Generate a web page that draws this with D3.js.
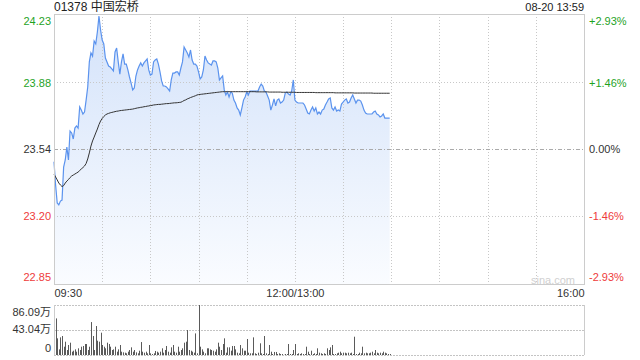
<!DOCTYPE html>
<html lang="zh">
<head>
<meta charset="UTF-8">
<title>01378 中国宏桥</title>
<script src="https://cdn.jsdelivr.net/npm/d3@7"></script>
<style>
  body { margin: 0; background: #fff; }
  text { font-family: "Liberation Sans", Arial, "Noto Sans CJK SC", sans-serif; }
</style>
</head>
<body>
<script>

// minute index: 0 = 09:30, 150 = 12:00/13:00, 330 = 16:00
var timeTicks = [0, 150, 330];
var timeLabels = ["09:30", "12:00/13:00", "16:00"];
var gridMinutes = [30, 60, 90, 120, 150, 180, 210, 240, 270, 300];

var priceTicks = [24.23, 23.88, 23.54, 23.20, 22.85];
var pctLabels = ["+2.93%", "+1.46%", "0.00%", "-1.46%", "-2.93%"];
var tickColors = ["#1fa31f", "#1fa31f", "#333", "#ee3b3b", "#ee3b3b"];

var volTicks = [86.09, 43.04, 0];
var volLabels = ["86.09万", "43.04万", "0"];

// price per minute, 09:30 .. 13:59
var price = [
  23.475, 23.356, 23.264, 23.254, 23.274, 23.279, 23.448, 23.484, 23.550, 23.484,
  23.632, 23.622, 23.591, 23.647, 23.658, 23.647, 23.755, 23.739, 23.719, 23.729,
  23.790, 23.857, 23.985, 24.031, 24.015, 24.092, 24.077, 24.138, 24.220, 24.148,
  24.097, 24.077, 24.005, 23.985, 23.964, 23.959, 23.949, 23.939, 24.036, 24.056,
  23.985, 23.923, 23.985, 24.026, 23.974, 23.974, 23.944, 23.908, 23.877, 23.842,
  23.852, 23.913, 23.944, 23.964, 23.980, 23.964, 23.980, 23.990, 24.000, 23.944,
  23.918, 23.923, 23.985, 23.995, 24.000, 23.974, 23.934, 23.888, 23.862, 23.862,
  23.857, 23.847, 23.836, 23.893, 23.928, 23.928, 23.934, 23.934, 23.918, 23.954,
  23.985, 24.061, 24.046, 24.031, 24.010, 24.046, 23.995, 23.974, 23.974, 23.964,
  23.934, 23.898, 23.908, 23.944, 24.015, 23.995, 23.980, 23.974, 23.969, 23.990,
  23.990, 23.985, 23.954, 23.893, 23.903, 23.913, 23.842, 23.816, 23.831, 23.806,
  23.831, 23.826, 23.790, 23.775, 23.750, 23.739, 23.714, 23.750, 23.790, 23.806,
  23.831, 23.816, 23.836, 23.836, 23.836, 23.836, 23.836, 23.836, 23.857, 23.872,
  23.862, 23.836, 23.831, 23.811, 23.790, 23.739, 23.765, 23.796, 23.760, 23.790,
  23.796, 23.775, 23.780, 23.790, 23.826, 23.831, 23.821, 23.816, 23.836, 23.893,
  23.790, 23.780, 23.775, 23.775, 23.775, 23.775, 23.765, 23.744, 23.724, 23.719,
  23.739, 23.755, 23.734, 23.750, 23.719, 23.729, 23.719, 23.739, 23.744, 23.765,
  23.780, 23.796, 23.801, 23.750, 23.739, 23.755, 23.734, 23.739, 23.734, 23.770,
  23.780, 23.790, 23.796, 23.775, 23.780, 23.801, 23.816, 23.796, 23.775, 23.790,
  23.790, 23.785, 23.765, 23.739, 23.724, 23.719, 23.719, 23.719, 23.719, 23.729,
  23.734, 23.719, 23.714, 23.704, 23.709, 23.719, 23.698, 23.698, 23.698, 23.698
];

// average price per minute
var avgPrice = [
  23.412, 23.397, 23.382, 23.366, 23.356, 23.348, 23.353, 23.366, 23.376, 23.384,
  23.394, 23.402, 23.407, 23.412, 23.417, 23.422, 23.430, 23.438, 23.445, 23.453,
  23.466, 23.489, 23.520, 23.555, 23.581, 23.601, 23.622, 23.642, 23.665, 23.683,
  23.696, 23.706, 23.714, 23.719, 23.722, 23.725, 23.727, 23.729, 23.731, 23.733,
  23.734, 23.736, 23.737, 23.738, 23.739, 23.740, 23.741, 23.742, 23.743, 23.744,
  23.746, 23.748, 23.750, 23.751, 23.753, 23.754, 23.756, 23.757, 23.759, 23.760,
  23.762, 23.763, 23.765, 23.766, 23.767, 23.768, 23.768, 23.769, 23.770, 23.771,
  23.772, 23.772, 23.773, 23.774, 23.775, 23.776, 23.776, 23.777, 23.778, 23.779,
  23.783, 23.788, 23.791, 23.796, 23.799, 23.803, 23.806, 23.809, 23.812, 23.816,
  23.818, 23.819, 23.820, 23.821, 23.822, 23.823, 23.824, 23.825, 23.826, 23.827,
  23.828, 23.829, 23.830, 23.831, 23.832, 23.833, 23.833, 23.833, 23.833, 23.833,
  23.833, 23.833, 23.833, 23.833, 23.833, 23.833, 23.833, 23.833, 23.833, 23.833,
  23.833, 23.833, 23.833, 23.833, 23.833, 23.833, 23.832, 23.832, 23.832, 23.832,
  23.832, 23.832, 23.832, 23.832, 23.831, 23.831, 23.831, 23.831, 23.831, 23.831,
  23.831, 23.831, 23.830, 23.830, 23.830, 23.830, 23.830, 23.830, 23.830, 23.830,
  23.830, 23.829, 23.829, 23.829, 23.829, 23.829, 23.829, 23.829, 23.829, 23.829,
  23.829, 23.829, 23.829, 23.828, 23.828, 23.828, 23.828, 23.828, 23.828, 23.828,
  23.828, 23.828, 23.828, 23.828, 23.828, 23.827, 23.827, 23.827, 23.827, 23.827,
  23.827, 23.827, 23.827, 23.827, 23.827, 23.827, 23.827, 23.826, 23.826, 23.826,
  23.826, 23.826, 23.826, 23.826, 23.826, 23.826, 23.826, 23.826, 23.826, 23.825,
  23.825, 23.825, 23.825, 23.825, 23.825, 23.825, 23.825, 23.825, 23.825, 23.825
];

// volume per minute, unit 万
var volume = [
  84.2, 63.0, 28.7, 9.7, 30.4, 32.7, 14.3, 22.9, 8.6, 17.2,
  21.2, 5.7, 7.4, 9.7, 5.7, 11.5, 8.6, 14.3, 15.5, 18.9,
  18.9, 8.6, 14.3, 56.7, 32.7, 8.6, 49.9, 24.6, 22.9, 38.4,
  17.2, 14.3, 11.5, 21.2, 18.9, 14.3, 8.6, 9.7, 14.3, 5.7,
  9.7, 17.2, 5.7, 4.6, 4.0, 2.9, 5.7, 8.6, 13.2, 5.7,
  8.6, 4.6, 2.9, 7.4, 22.3, 5.7, 4.0, 5.7, 2.9, 17.2,
  2.9, 1.7, 2.9, 6.9, 5.7, 4.0, 5.7, 11.5, 4.0, 8.6,
  15.5, 5.7, 4.0, 13.2, 17.2, 5.7, 4.0, 14.3, 5.7, 8.6,
  11.5, 21.2, 22.9, 43.0, 8.6, 7.4, 5.7, 4.0, 37.2, 2.9,
  86.09, 14.3, 9.7, 5.7, 2.9, 11.5, 11.5, 9.7, 8.6, 7.4,
  5.7, 9.7, 21.2, 14.3, 8.6, 18.9, 28.7, 4.0, 13.2, 13.2,
  7.4, 15.5, 15.5, 9.7, 4.0, 2.9, 17.2, 11.5, 7.4, 7.4,
  27.5, 4.0, 2.9, 2.9, 30.4, 2.9, 1.7, 4.0, 20.1, 2.9,
  1.7, 32.7, 2.9, 1.7, 17.2, 5.7, 1.7, 5.2, 5.2, 1.7,
  2.9, 1.7, 1.7, 0.3, 1.7, 1.7, 18.9, 1.7, 1.7, 8.6,
  18.9, 1.7, 2.9, 1.7, 2.9, 1.7, 1.7, 14.3, 5.7, 1.7,
  7.4, 1.7, 2.9, 1.7, 11.5, 4.0, 2.9, 1.7, 2.9, 1.7,
  11.5, 8.6, 13.2, 17.2, 1.7, 1.7, 2.9, 4.0, 5.7, 2.9,
  4.0, 4.0, 2.9, 4.0, 2.9, 4.0, 1.7, 31.5, 1.7, 1.7,
  4.0, 2.9, 14.3, 2.9, 4.0, 2.9, 2.9, 4.0, 5.7, 2.9,
  8.6, 4.0, 2.9, 4.0, 2.9, 5.7, 4.0, 2.9, 1.7, 1.7
];

var plotL = 54, plotR = 584, plotT = 14, plotB = 284;
var volT = 305, volB = 355;

var svg = d3.select("body").append("svg").attr("width", 640).attr("height", 360);

var x = d3.scaleLinear().domain([0, 330]).range([plotL, plotR]);
var y = d3.scaleLinear().domain([22.85, 24.23]).range([plotB, plotT]);
var yv = d3.scaleLinear().domain([0, 86.09]).range([volB, volT]);

var grad = svg.append("defs").append("linearGradient").attr("id", "fill")
  .attr("gradientUnits", "userSpaceOnUse").attr("x1", 0).attr("y1", plotT).attr("x2", 0).attr("y2", plotB);
grad.append("stop").attr("offset", 0).attr("stop-color", "#d3e2fa");
grad.append("stop").attr("offset", 1).attr("stop-color", "#fafcff");

// area under the price
var area = d3.area().x(function(d, i) { return x(i); }).y0(plotB).y1(function(d) { return y(d); });
svg.append("path").datum(price).attr("d", area).attr("fill", "url(#fill)");

// grid
svg.selectAll(".vgrid").data(gridMinutes).enter().append("line")
  .attr("x1", function(d) { return Math.round(x(d)) + 0.5; })
  .attr("x2", function(d) { return Math.round(x(d)) + 0.5; })
  .attr("y1", plotT).attr("y2", plotB)
  .attr("stroke", "#c8c8c8").attr("stroke-dasharray", "1,2");

svg.selectAll(".hgrid").data([priceTicks[1], priceTicks[3]]).enter().append("line")
  .attr("x1", plotL).attr("x2", plotR)
  .attr("y1", function(d) { return Math.round(y(d)) + 0.5; })
  .attr("y2", function(d) { return Math.round(y(d)) + 0.5; })
  .attr("stroke", "#c8c8c8").attr("stroke-dasharray", "1,2");

svg.append("line").attr("x1", plotL).attr("x2", plotR)
  .attr("y1", Math.round(y(priceTicks[2])) + 0.5).attr("y2", Math.round(y(priceTicks[2])) + 0.5)
  .attr("stroke", "#aaa").attr("stroke-dasharray", "4,2,1,2");

var line = d3.line().x(function(d, i) { return x(i); }).y(function(d) { return y(d); });
svg.append("path").datum(price).attr("d", line).attr("fill", "none")
  .attr("stroke", "#5b93ee").attr("stroke-width", 1.2);
svg.append("path").datum(avgPrice).attr("d", line).attr("fill", "none")
  .attr("stroke", "#333").attr("stroke-width", 1);

svg.append("rect").attr("x", plotL + 0.5).attr("y", plotT + 0.5)
  .attr("width", plotR - plotL).attr("height", plotB - plotT)
  .attr("fill", "none").attr("stroke", "#ccc");

// axes
var axL = svg.append("g").attr("transform", "translate(" + plotL + ",0)")
  .call(d3.axisLeft(y).tickValues(priceTicks).tickSize(0).tickPadding(3).tickFormat(d3.format(".2f")));
var axR = svg.append("g").attr("transform", "translate(" + plotR + ",0)")
  .call(d3.axisRight(y).tickValues(priceTicks).tickSize(0).tickPadding(5)
    .tickFormat(function(d, i) { return pctLabels[i]; }));
[axL, axR].forEach(function(ax) {
  ax.select(".domain").remove();
  ax.selectAll("text").attr("font-size", 11).attr("fill", function(d, i) { return tickColors[i]; })
    .attr("y", function(d, i) { return i == 0 ? 7 : (i == 4 ? -7 : 0); });
});

var axB = svg.append("g").attr("transform", "translate(0," + plotB + ")")
  .call(d3.axisBottom(x).tickValues(timeTicks).tickSize(0).tickPadding(5)
    .tickFormat(function(d, i) { return timeLabels[i]; }));
axB.select(".domain").remove();
axB.selectAll("text").attr("font-size", 11).attr("fill", "#333")
  .attr("text-anchor", function(d, i) { return i == 0 ? "start" : (i == 2 ? "end" : "middle"); });

// volume panel
svg.selectAll(".vline").data(volTicks).enter().append("line")
  .attr("x1", plotL).attr("x2", plotR)
  .attr("y1", function(d) { return Math.round(yv(d)) + 0.5; })
  .attr("y2", function(d) { return Math.round(yv(d)) + 0.5; })
  .attr("stroke", "#c4c4c4").attr("stroke-dasharray", "2,1");

svg.selectAll(".bar").data(volume).enter().append("line")
  .attr("x1", function(d, i) { return Math.round(x(i)) + 0.5; })
  .attr("x2", function(d, i) { return Math.round(x(i)) + 0.5; })
  .attr("y1", yv(0)).attr("y2", function(d) { return yv(d); })
  .attr("stroke", "#5a5a5a").attr("stroke-width", 1);

svg.append("line").attr("x1", plotL + 0.5).attr("x2", plotL + 0.5).attr("y1", volT).attr("y2", volB).attr("stroke", "#ccc");
svg.append("line").attr("x1", plotR + 0.5).attr("x2", plotR + 0.5).attr("y1", volT).attr("y2", volB).attr("stroke", "#ccc");

var axV = svg.append("g").attr("transform", "translate(" + plotL + ",0)")
  .call(d3.axisLeft(yv).tickValues(volTicks).tickSize(0).tickPadding(3)
    .tickFormat(function(d, i) { return volLabels[i]; }));
axV.select(".domain").remove();
axV.selectAll("text").attr("font-size", 11).attr("fill", "#333")
  .attr("y", function(d, i) { return i == 0 ? 7 : (i == 2 ? -7 : -1); });

// titles
svg.append("text").attr("x", plotL).attr("y", 11).attr("font-size", 12).attr("fill", "#222").text("01378 中国宏桥");
svg.append("text").attr("x", plotR).attr("y", 11).attr("font-size", 11).attr("fill", "#222")
  .attr("text-anchor", "end").text("08-20 13:59");
svg.append("text").attr("x", 553).attr("y", 284).attr("font-size", 11).attr("fill", "#d0d0d0")
  .attr("text-anchor", "middle").text("sina.com");

</script>
</body>
</html>
